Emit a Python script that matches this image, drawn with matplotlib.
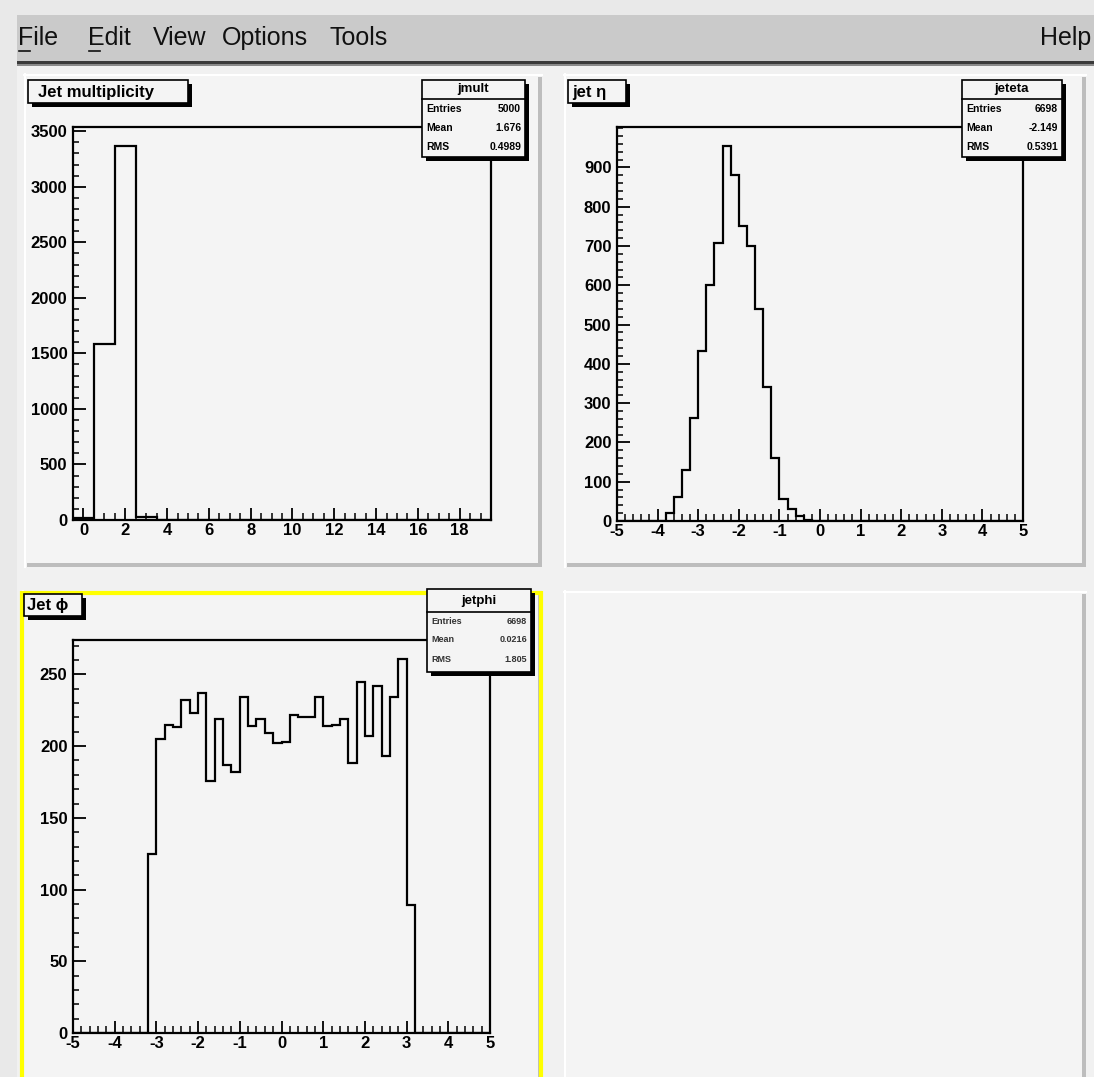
import matplotlib
matplotlib.use("Agg")
import matplotlib.pyplot as plt
from matplotlib.patches import Rectangle
from matplotlib.ticker import MultipleLocator, FixedLocator
import numpy as np

plt.rcParams['font.family'] = ['Liberation Sans', 'DejaVu Sans']
plt.rcParams['axes.unicode_minus'] = False

# ---------------- data ----------------
menu_items = ["File", "Edit", "View", "Options", "Tools"]
menu_help = "Help"

mult_title = "Jet multiplicity"
mult_name = "jmult"
mult_edges_range = (-0.5, 19.5)
mult_counts = [20, 1580, 3370, 30, 0, 0, 0, 0, 0, 0,
               0, 0, 0, 0, 0, 0, 0, 0, 0, 0]
mult_stats = [("Entries", "5000"), ("Mean", "1.676"), ("RMS", "0.4989")]
mult_yticks = [0, 500, 1000, 1500, 2000, 2500, 3000, 3500]
mult_xticks = [0, 2, 4, 6, 8, 10, 12, 14, 16, 18]

eta_title = "jet η"
eta_name = "jeteta"
eta_range = (-5, 5)
eta_counts = [0, 0, 0, 0, 0, 0, 21, 62, 130, 261,
              433, 600, 707, 955, 881, 750, 700, 539, 341, 161,
              55, 30, 13, 3, 1, 1, 1, 0, 0, 0,
              0, 1, 1, 0, 0, 0, 0, 0, 0, 0,
              0, 0, 0, 0, 0, 0, 0, 0, 0, 0]
eta_stats = [("Entries", "6698"), ("Mean", "-2.149"), ("RMS", "0.5391")]
eta_yticks = [0, 100, 200, 300, 400, 500, 600, 700, 800, 900]
eta_xticks = [-5, -4, -3, -2, -1, 0, 1, 2, 3, 4, 5]

phi_title = "Jet ϕ"
phi_name = "jetphi"
phi_range = (-5, 5)
phi_counts = [0, 0, 0, 0, 0, 0, 0, 0, 0,
              125, 205, 215, 213, 232, 223, 237, 176, 219, 187,
              182, 234, 214, 219, 209, 202, 203, 222, 220, 220,
              234, 214, 215, 219, 188, 245, 207, 242, 193, 234,
              261, 89,
              0, 0, 0, 0, 0, 0, 0, 0, 0]
phi_stats = [("Entries", "6698"), ("Mean", "0.0216"), ("RMS", "1.805")]
phi_yticks = [0, 50, 100, 150, 200, 250]
phi_xticks = [-5, -4, -3, -2, -1, 0, 1, 2, 3, 4, 5]

# ---------------- layout ----------------
W, H = 1094, 1077
fig = plt.figure(figsize=(W / 100, H / 100), dpi=100)
fig.patch.set_facecolor("#e9e9e9")

def rect_fig(x0, y0, x1, y1):
    return [x0 / W, 1 - y1 / H, (x1 - x0) / W, (y1 - y0) / H]

bg = fig.add_axes([0, 0, 1, 1], zorder=0)
bg.set_xlim(0, W); bg.set_ylim(H, 0); bg.axis("off")

top = fig.add_axes([0, 0, 1, 1], zorder=10)
top.set_xlim(0, W); top.set_ylim(H, 0); top.axis("off")
top.patch.set_alpha(0)

PADC = "#f4f4f4"

# canvas + menu
bg.add_patch(Rectangle((17, 62), W - 17, H - 62, color="#f1f1f1", lw=0))
bg.add_patch(Rectangle((17, 15), W - 17, 47, color="#cacaca", lw=0))
bg.add_patch(Rectangle((17, 61), W - 17, 3, color="#3a3a3a", lw=0))
bg.add_patch(Rectangle((17, 64), W - 17, 2, color="#8a8a8a", lw=0))

menu_x = [18, 88, 153, 222, 330]
mfont = dict(family=['Liberation Sans Narrow', 'DejaVu Sans Condensed', 'Liberation Sans'],
             fontsize=18, color="#111111", va="center")
for lab, x in zip(menu_items, menu_x):
    bg.text(x, 38, lab, ha="left", **mfont)
bg.text(1091, 38, menu_help, ha="right", **mfont)
bg.plot([19, 30], [51, 51], color="#111111", lw=1.2)
bg.plot([89, 100], [51, 51], color="#111111", lw=1.2)

def pad(x0, y0, x1, y1):
    bg.add_patch(Rectangle((x0, y0), x1 - x0, y1 - y0, color=PADC, lw=0))
    bg.plot([x0, x1], [y0 + 1, y0 + 1], color="white", lw=1.5)
    bg.plot([x0 + 1, x0 + 1], [y0, y1], color="white", lw=1.5)
    bg.add_patch(Rectangle((x1 - 4, y0 + 3), 4, y1 - y0 - 3, color="#bdbdbd", lw=0))
    bg.add_patch(Rectangle((x0 + 3, y1 - 4), x1 - x0 - 3, 4, color="#bdbdbd", lw=0))

pad(24, 74, 542, 567)
pad(564, 74, 1086, 567)
pad(22, 591, 542, 1090)
pad(564, 591, 1086, 1090)
# selected pad: yellow border
bg.plot([22, 542], [592.5, 592.5], color="#ffff00", lw=3, solid_capstyle="butt")
bg.plot([22, 22], [591, H], color="#ffff00", lw=3, solid_capstyle="butt")
bg.plot([541, 541], [591, H], color="#ffff00", lw=3, solid_capstyle="butt")

LFONT = dict(fontsize=12, fontweight="bold")

def hist_axes(box, counts, xrange_, ylim, xticks, xminor, yticks, yminor):
    ax = fig.add_axes(rect_fig(*box), zorder=2)
    ax.patch.set_alpha(0)
    n = len(counts)
    edges = np.linspace(xrange_[0], xrange_[1], n + 1)
    ax.stairs(counts, edges, baseline=0, color="black", lw=1.6)
    ax.set_xlim(*xrange_)
    ax.set_ylim(0, ylim)
    ax.xaxis.set_major_locator(FixedLocator(xticks))
    ax.xaxis.set_minor_locator(MultipleLocator(xminor))
    ax.yaxis.set_major_locator(FixedLocator(yticks))
    ax.yaxis.set_minor_locator(MultipleLocator(yminor))
    ax.set_xticklabels([str(t) for t in xticks], **LFONT)
    ax.set_yticklabels([str(t) for t in yticks], **LFONT)
    ax.tick_params(axis="x", which="major", direction="in", length=9, width=1.3, pad=2, top=False)
    ax.tick_params(axis="x", which="minor", direction="in", length=5, width=1.1, top=False)
    ax.tick_params(axis="y", which="major", direction="in", length=9, width=1.3, pad=4, right=False)
    ax.tick_params(axis="y", which="minor", direction="in", length=4.5, width=1.1, right=False)
    for s in ax.spines.values():
        s.set_linewidth(1.6)
    return ax

hist_axes((73, 127, 491, 520), mult_counts, mult_edges_range, 3538,
          mult_xticks, 0.5, mult_yticks, 100)
hist_axes((617, 127, 1023, 521), eta_counts, eta_range, 1003,
          eta_xticks, 0.2, eta_yticks, 20)
hist_axes((73, 640, 490, 1033), phi_counts, phi_range, 274,
          phi_xticks, 0.2, phi_yticks, 10)

def shadow_box(x0, y0, x1, y1, off=4):
    top.add_patch(Rectangle((x0 + off, y0 + off), x1 - x0, y1 - y0, color="black", lw=0))
    top.add_patch(Rectangle((x0, y0), x1 - x0, y1 - y0, facecolor=PADC,
                            edgecolor="black", lw=1.2))

def title_box(x0, y0, x1, y1, text, tx):
    shadow_box(x0, y0, x1, y1)
    top.text(tx, (y0 + y1) / 2 + 0.5, text, ha="left", va="center",
             fontsize=12, fontweight="bold")

def stats_box(x0, y0, x1, y1, name, rows, ydiv, yhead, yrows, fs=7.5, color="black"):
    shadow_box(x0, y0, x1, y1)
    top.plot([x0, x1], [ydiv, ydiv], color="black", lw=1.2)
    top.text((x0 + x1) / 2, yhead, name, ha="center", va="center",
             fontsize=9.5, fontweight="bold")
    for (k, v), yy in zip(rows, yrows):
        top.text(x0 + 4, yy, k, ha="left", va="center", fontsize=fs,
                 fontweight="bold", color=color)
        top.text(x1 - 4, yy, v, ha="right", va="center", fontsize=fs,
                 fontweight="bold", color=color)

title_box(28, 80, 188, 103, mult_title, 38)
title_box(568, 80, 626, 103, eta_title, 572)
title_box(24, 594, 82, 616, phi_title, 27)

stats_box(422, 80, 525, 157, mult_name, mult_stats, 98.5, 89, [108.5, 128, 147])
stats_box(962, 80, 1062, 157, eta_name, eta_stats, 98.5, 89, [108.5, 128, 147])
stats_box(427, 589, 531, 672, phi_name, phi_stats, 612, 601, [621, 640, 659],
          fs=6.5, color="#333333")

fig.savefig("out.png", dpi=100, facecolor=fig.get_facecolor())
